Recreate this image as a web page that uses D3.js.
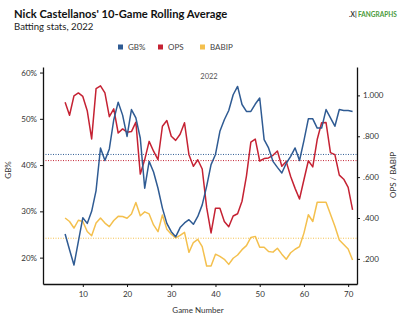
<!DOCTYPE html>
<html>
<head>
<meta charset="utf-8">
<script src="https://cdn.jsdelivr.net/npm/d3@7"></script>
<style>
  body { margin: 0; background: #fff; }
  svg { display: block; font-family: Lato, "Open Sans", sans-serif; }
  .axis path, .axis line { stroke: #111; }
  .axis text { fill: #333; font-size: 8px; font-family: Lato, sans-serif; }
</style>
</head>
<body>
<svg id="chart" width="404" height="326"></svg>
<script>
// 10-game rolling averages, games 6 through 71
var games = d3.range(6, 72);

var gbPct = [
    25.1, 21.7, 18.4, 23.5, 28.6, 27.4, 30.0, 34.5, 43.7, 41.0,
    43.5, 49.8, 53.6, 50.8, 46.2, 52.0, 50.2, 45.8, 35.0, 40.8,
    38.5, 35.0, 30.7, 27.4, 25.6, 24.5, 26.5, 27.5, 28.2, 27.2,
    28.9, 31.4, 35.4, 40.1, 42.3, 47.3, 49.8, 51.8, 55.2, 57.0,
    53.1, 51.6, 51.6, 53.2, 54.5, 45.5, 43.7, 40.8, 39.5, 38.3,
    40.4, 41.9, 43.7, 41.0, 45.3, 50.0, 50.0, 48.0, 48.0, 52.0,
    50.2, 48.4, 52.0, 51.8, 51.8, 51.6
];

var ops = [
    .967, .903, .998, 1.012, .995, .925, .787, 1.033, 1.047, 1.012,
    .896, .934, .816, .836, .820, .823, .869, .615, .686, .775,
    .727, .686, .849, .877, .800, .780, .810, .866, .710, .653,
    .685, .640, .452, .327, .448, .448, .383, .357, .410, .421,
    .482, .605, .771, .786, .679, .691, .694, .707, .728, .653,
    .676, .603, .545, .493, .587, .680, .650, .784, .866, .867,
    .720, .710, .610, .590, .550, .440
];

var babip = [
    .400, .383, .351, .389, .383, .334, .313, .375, .400, .375,
    .358, .388, .408, .407, .399, .420, .476, .411, .430, .420,
    .366, .333, .415, .345, .321, .303, .315, .330, .232, .280,
    .295, .260, .165, .165, .223, .212, .198, .173, .203, .219,
    .245, .265, .305, .310, .257, .257, .236, .233, .252, .223,
    .198, .230, .247, .260, .326, .416, .383, .477, .477, .477,
    .418, .360, .292, .270, .248, .194
];

// season reference levels (dotted)
var gbAvg = 42.3;
var opsAvg = 0.681;
var babipAvg = 0.301;

var gameTicks = [10, 20, 30, 40, 50, 60, 70];
var gbTicks = [20, 30, 40, 50, 60];
var rateTicks = [0.2, 0.4, 0.6, 0.8, 1.0];

var seriesNames = ['GB%', 'OPS', 'BABIP'];
var seriesColors = ['#2f5b93', '#c52233', '#f4c04e'];

var svg = d3.select('#chart');

var plot = { left: 43, right: 357, top: 67, bottom: 284 };

var x = d3.scaleLinear().domain([1, 72]).range([plot.left, plot.right]);
var yLeft = d3.scaleLinear().domain([14.3, 61.2]).range([plot.bottom, plot.top]);
var yRight = d3.scaleLinear().domain([0.077, 1.139]).range([plot.bottom, plot.top]);

// title block
svg.append('text')
    .attr('x', 14)
    .attr('y', 18)
    .attr('font-size', 11.2)
    .attr('font-weight', 700)
    .attr('fill', '#111')
    .text("Nick Castellanos' 10-Game Rolling Average");

svg.append('text')
    .attr('x', 14)
    .attr('y', 30)
    .attr('font-size', 9.6)
    .attr('fill', '#222')
    .text('Batting stats, 2022');

// logo mark
var logo = svg.append('g').attr('transform', 'translate(349,17)');
logo.append('text')
    .attr('x', 0)
    .attr('font-size', 6.5)
    .attr('font-weight', 700)
    .attr('fill', '#333')
    .text('.X|');
logo.append('text')
    .attr('x', 9)
    .attr('font-size', 6.5)
    .attr('font-weight', 700)
    .attr('fill', '#4a9a3a')
    .text('FANGRAPHS');

// legend
var legendX = [118, 158, 200];
var legend = svg.append('g');
seriesNames.forEach(function(name, i) {
    legend.append('rect')
        .attr('x', legendX[i])
        .attr('y', 44.5)
        .attr('width', 5)
        .attr('height', 5)
        .attr('fill', seriesColors[i]);
    legend.append('text')
        .attr('x', legendX[i] + 10)
        .attr('y', 50)
        .attr('font-size', 8)
        .attr('fill', '#444')
        .text(name);
});

// season label inside the plot
svg.append('text')
    .attr('x', 209)
    .attr('y', 79)
    .attr('text-anchor', 'middle')
    .attr('font-size', 7.5)
    .attr('fill', '#555')
    .text('2022');

// dotted average lines
function refLine(y, color) {
    svg.append('line')
        .attr('x1', plot.left)
        .attr('x2', plot.right)
        .attr('y1', y)
        .attr('y2', y)
        .attr('stroke', color)
        .attr('stroke-width', 1)
        .attr('stroke-dasharray', '1,1.5');
}
refLine(yLeft(gbAvg), seriesColors[0]);
refLine(yRight(opsAvg), seriesColors[1]);
refLine(yRight(babipAvg), seriesColors[2]);

// series lines
function drawSeries(values, yScale, color) {
    var line = d3.line()
        .x(function(d, i) { return x(games[i]); })
        .y(function(d) { return yScale(d); });

    svg.append('path')
        .datum(values)
        .attr('fill', 'none')
        .attr('stroke', color)
        .attr('stroke-width', 1.5)
        .attr('stroke-linejoin', 'round')
        .attr('d', line);
}
drawSeries(babip, yRight, seriesColors[2]);
drawSeries(ops, yRight, seriesColors[1]);
drawSeries(gbPct, yLeft, seriesColors[0]);

// axes
svg.append('g')
    .attr('class', 'axis')
    .attr('transform', 'translate(0,' + plot.bottom + ')')
    .call(d3.axisBottom(x).tickValues(gameTicks).tickSize(3).tickSizeOuter(0).tickPadding(4))
    .call(function(g) { g.select('.domain').attr('stroke-width', 1.3); });

svg.append('g')
    .attr('class', 'axis')
    .attr('transform', 'translate(' + plot.left + ',0)')
    .call(d3.axisLeft(yLeft).tickValues(gbTicks).tickSize(3).tickSizeOuter(0).tickPadding(3)
        .tickFormat(function(d) { return d + '%'; }))
    .call(function(g) { g.select('.domain').attr('stroke-width', 1.3); });

svg.append('g')
    .attr('class', 'axis')
    .attr('transform', 'translate(' + plot.right + ',0)')
    .call(d3.axisRight(yRight).tickValues(rateTicks).tickSize(3).tickSizeOuter(0).tickPadding(3)
        .tickFormat(function(d) { return d3.format('.3f')(d).replace(/^0/, ''); }))
    .call(function(g) { g.select('.domain').attr('stroke-width', 1.3); });

// axis titles
svg.append('text')
    .attr('transform', 'translate(11,170) rotate(-90)')
    .attr('text-anchor', 'middle')
    .attr('font-size', 8)
    .attr('fill', '#333')
    .text('GB%');

svg.append('text')
    .attr('transform', 'translate(396,175) rotate(-90)')
    .attr('text-anchor', 'middle')
    .attr('font-size', 8)
    .attr('fill', '#333')
    .text('OPS / BABIP');

svg.append('text')
    .attr('x', 198)
    .attr('y', 313)
    .attr('text-anchor', 'middle')
    .attr('font-size', 8)
    .attr('fill', '#333')
    .text('Game Number');
</script>
</body>
</html>
